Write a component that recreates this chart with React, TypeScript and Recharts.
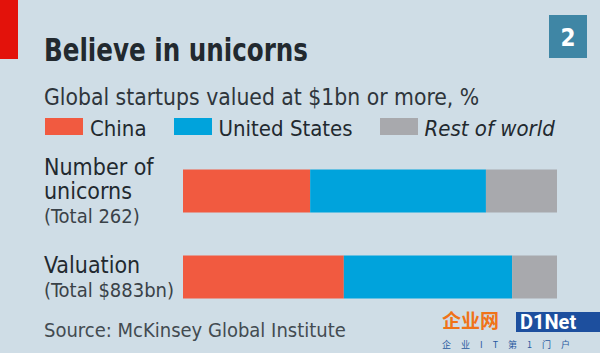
import React from "react";
import { BarChart, Bar, XAxis, YAxis, Legend } from "recharts";

const categoryLines = [["Number of", "unicorns"], ["Valuation"]];
const totals = ["(Total 262)", "(Total $883bn)"];
const seriesNames = ["China", "United States", "Rest of world"];
const chinaShare = [34, 43];
const usShare = [47, 45];
const restShare = [19, 12];

const COLORS = ["#f15a40", "#00a3dc", "#a8a9ad"];
const BG = "#cfdde6";
const TEXT = "#22292f";
const FONT = "'DejaVu Sans Condensed', 'DejaVu Sans', sans-serif";

const data = categoryLines.map((lines, i) => ({
  key: String(i),
  china: chinaShare[i],
  us: usShare[i],
  rest: restShare[i],
}));

const CategoryTick = (props: any) => {
  const { y, payload } = props;
  const i = Number(payload.value);
  const lines = categoryLines[i];
  const startY = i === 0 ? y - 15.5 : y - 3.5;
  return (
    <g>
      {lines.map((l, k) => (
        <text key={k} x={44} y={startY + k * 23.5} fill={TEXT} fontSize={23} fontFamily={FONT} textAnchor="start">
          {l}
        </text>
      ))}
      <text x={44} y={startY + lines.length * 23.5 + 0.5} fill="#3a4248" fontSize={20} fontFamily={FONT} textAnchor="start">
        {totals[i]}
      </text>
    </g>
  );
};

const LegendContent = () => {
  return (
    <div style={{ display: "flex", alignItems: "flex-start", fontFamily: FONT, fontSize: 22, color: TEXT, whiteSpace: "nowrap", height: 24 }}>
      {seriesNames.map((name, i) => (
        <div key={i} style={{ display: "flex", alignItems: "flex-start", marginRight: 27 }}>
          <div style={{ width: 38, height: 17, background: COLORS[i], marginRight: 7, marginTop: 1 }} />
          <span style={{ fontStyle: i === 2 ? "italic" : "normal", lineHeight: "23px" }}>{name}</span>
        </div>
      ))}
    </div>
  );
};

export default function App() {
  return (
    <div style={{ position: "absolute", left: 0, top: 0, width: 600, height: 353, background: BG, overflow: "hidden" }}>
      <svg width={600} height={353} style={{ position: "absolute", left: 0, top: 0 }}>
        <rect x={0} y={0} width={18} height={59} fill="#e3120b" />
        <text
          x={44}
          y={61}
          fontFamily={FONT}
          fontWeight="bold"
          fontSize={32}
          fill={TEXT}
          textLength={264}
          lengthAdjust="spacingAndGlyphs"
        >
          Believe in unicorns
        </text>
        <rect x={549} y={15} width={38} height={43} fill="#3f86a5" />
        <text x={568} y={46} textAnchor="middle" fontFamily={FONT} fontWeight="bold" fontSize={24} fill="#ffffff">
          2
        </text>
        <text x={44} y={105} fontFamily={FONT} fontSize={22.7} fill="#2e353b">
          Global startups valued at $1bn or more, %
        </text>
        <text x={44} y={337} fontFamily={FONT} fontSize={20} fill="#434b51">
          Source: McKinsey Global Institute
        </text>
        <text x={442} y={328} fontFamily="'Noto Sans CJK SC'" fontWeight="bold" fontSize={19} fill="#f07318">
          企业网
        </text>
        <rect x={516} y={312} width={84} height={20} fill="#1d4f9e" />
        <text x={520} y={329} fontFamily="Roboto" fontWeight="bold" fontSize={20} fill="#ffffff">
          D1Net
        </text>
        <text x={442} y={348} fontFamily="'Noto Sans CJK SC'" fontSize={9} fill="#2a5aa0" letterSpacing={10}>
          企业IT第1门户
        </text>
      </svg>
      <div style={{ position: "absolute", left: 0, top: 0 }}>
        <BarChart
          width={600}
          height={353}
          layout="vertical"
          data={data}
          margin={{ top: 147.5, right: 43, bottom: 33.5, left: 44 }}
          barSize={43}
        >
          <XAxis type="number" domain={[0, 100]} hide />
          <YAxis type="category" dataKey="key" width={139} axisLine={false} tickLine={false} tick={<CategoryTick />} />
          <Legend
            verticalAlign="middle"
            align="center"
            layout="horizontal"
            content={<LegendContent />}
            wrapperStyle={{ top: 117, left: 45, width: 555, height: 24 }}
          />
          <Bar dataKey="china" name={seriesNames[0]} stackId="a" fill={COLORS[0]} isAnimationActive={false} />
          <Bar dataKey="us" name={seriesNames[1]} stackId="a" fill={COLORS[1]} isAnimationActive={false} />
          <Bar dataKey="rest" name={seriesNames[2]} stackId="a" fill={COLORS[2]} isAnimationActive={false} />
        </BarChart>
      </div>
    </div>
  );
}
